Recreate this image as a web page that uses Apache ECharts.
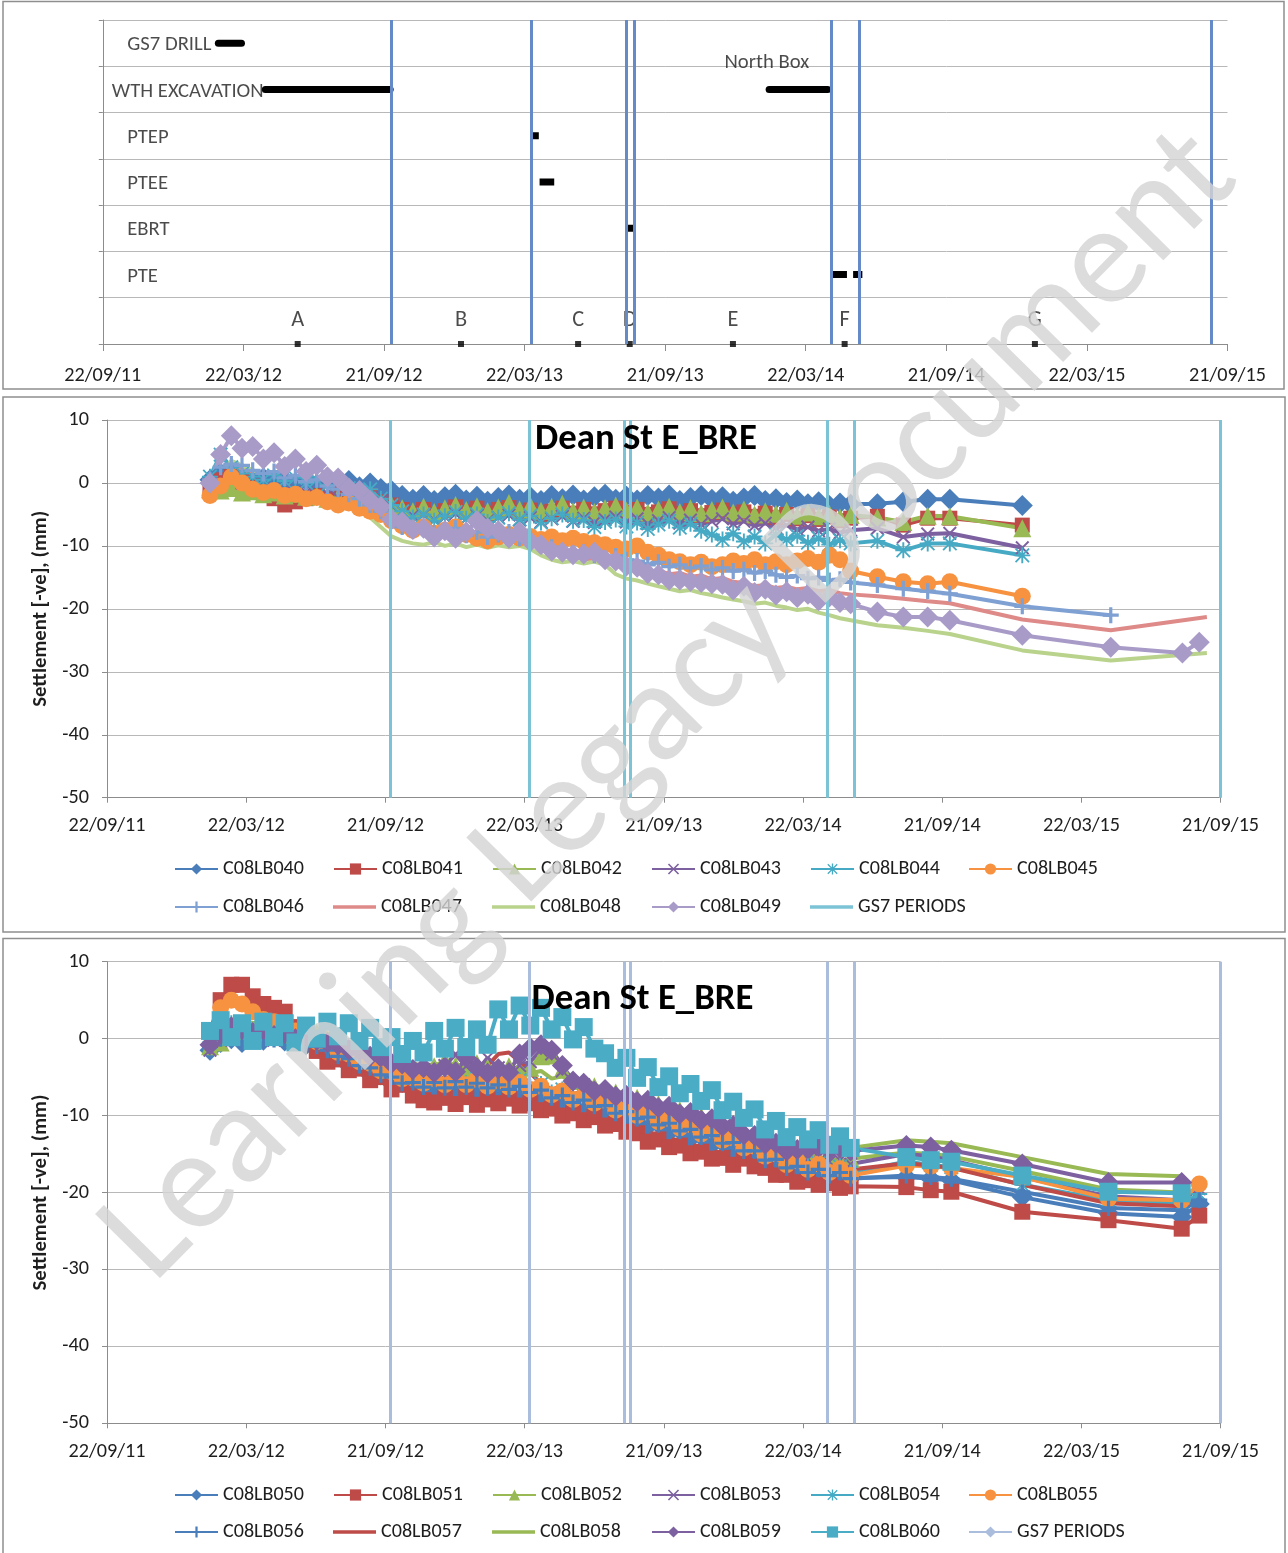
<!DOCTYPE html>
<html><head><meta charset="utf-8">
<script src="https://cdn.jsdelivr.net/npm/echarts@6/dist/echarts.min.js"></script>
<style>html,body{margin:0;padding:0;background:#fff}#c{width:1288px;height:1553px}</style>
</head><body><div id="c"></div>
<script>
// ---------------- DATA ----------------
const AXIS_START = '2011-09-22';
const AXIS_END = '2015-09-21';
const TICK_STEP_DAYS = 182.5;
const X_TICK_LABELS = ['22/09/11','22/03/12','21/09/12','22/03/13','21/09/13','22/03/14','21/09/14','22/03/15','21/09/15'];

// Top panel (activity timeline)
const ACTIVITY_LABELS = ['GS7 DRILL','WTH EXCAVATION','PTEP','PTEE','EBRT','PTE'];
const ACTIVITY_LABEL_ROWS = [6.5, 5.5, 4.5, 3.5, 2.5, 1.5];
const ACTIVITY_LABEL_DATES = ['2011-10-23','2011-10-03','2011-10-23','2011-10-23','2011-10-23','2011-10-23'];
const BAR_NAMES = ['GS7 DRILL','WTH EXCAVATION','North Box','PTEP','PTEE','EBRT','PTE','PTE'];
const BAR_ROWS = [6.5, 5.5, 5.5, 4.5, 3.5, 2.5, 1.5, 1.5];
const BAR_START = ['2012-02-19','2012-04-20','2014-02-03','2013-04-01','2013-04-11','2013-08-03','2014-04-24','2014-05-23'];
const BAR_END   = ['2012-03-20','2012-09-29','2014-04-20','2013-04-10','2013-04-30','2013-08-11','2014-05-15','2014-06-04'];
const NORTH_BOX_TEXT = 'North Box';
const NORTH_BOX_DATE = '2014-01-31';
const NORTH_BOX_ROW = 6.12;
const MILESTONES = ['A','B','C','D','E','F','G'];
const MILESTONE_DATES = ['2012-06-01','2012-12-30','2013-05-31','2013-08-06','2013-12-18','2014-05-12','2015-01-14'];
const MILESTONE_LABEL_ROW = 0.56;
const GS7_PERIODS_TOP = ['2012-09-30','2013-03-31','2013-08-01','2013-08-12','2014-04-24','2014-05-31','2015-08-31'];
const GS7_PERIODS_SETTLEMENT = ['2012-09-27','2013-03-29','2013-07-31','2013-08-08','2014-04-23','2014-05-29','2015-09-21'];

// Settlement readings: dense period dates (shared) + sparse tail dates
const DENSE_DATES = ['2012-02-04','2012-02-18','2012-03-03','2012-03-17','2012-03-31','2012-04-14','2012-04-28','2012-05-12','2012-05-26','2012-06-09',
 '2012-06-23','2012-07-07','2012-07-21','2012-08-04','2012-08-18','2012-09-01','2012-09-15','2012-09-29','2012-10-13','2012-10-27',
 '2012-11-10','2012-11-24','2012-12-08','2012-12-22','2013-01-05','2013-01-19','2013-02-02','2013-02-16','2013-03-02','2013-03-16',
 '2013-03-30','2013-04-13','2013-04-27','2013-05-11','2013-05-25','2013-06-08','2013-06-22','2013-07-06','2013-07-20','2013-08-03',
 '2013-08-17','2013-08-31','2013-09-14','2013-09-28','2013-10-12','2013-10-26','2013-11-09','2013-11-23','2013-12-07','2013-12-21',
 '2014-01-04','2014-01-18','2014-02-01','2014-02-15','2014-03-01','2014-03-15','2014-03-29','2014-04-12','2014-04-26','2014-05-10',
 '2014-05-24'];
const P2_TAIL_DATES = ['2014-06-28','2014-08-01','2014-09-02','2014-10-01','2015-01-04','2015-04-30','2015-08-02','2015-08-24','2015-09-03'];
const P3_TAIL_DATES = ['2014-08-05','2014-09-06','2014-10-03','2015-01-04','2015-04-27','2015-08-01','2015-08-24'];

// Panel 2 (C08LB040 - C08LB049): dense values then tail values
const C08LB040 = [0.5,1.5,1.2,0.6,0.2,0.8,0.0,0.5,-0.3,0.4, -0.2,0.6,0.0,0.4,-0.6,0.0,-0.9,-1.2,-2.0,-2.6, -2.0,-2.8,-2.2,-1.8,-2.7,-2.1,-2.9,-2.3,-1.9,-2.6, -2.2,-2.8,-2.0,-2.5,-1.9,-2.7,-2.2,-1.8,-2.6,-2.1, -2.7,-2.0,-2.4,-1.9,-2.8,-2.3,-2.0,-2.6,-2.2,-2.9, -2.4,-2.0,-2.8,-2.5,-3.1,-2.7,-3.3,-3.0,-3.6,-3.2, -3.4,
  -3.3,-3.0,-2.6,-2.6,-3.6,null,null,null,null];
const C08LB041 = [-0.5,0.5,1.0,0.3,-0.5,-1.5,-2.5,-3.5,-3.0,-2.5, -2.0,-2.5,-1.8,-2.2,-2.8,-2.0,-3.0,-3.5,-4.2,-4.8, -4.2,-5.0,-4.4,-3.8,-4.6,-4.0,-4.8,-4.2,-3.9,-4.7, -4.3,-5.1,-4.5,-4.0,-4.8,-4.2,-4.9,-4.4,-4.0,-4.7, -4.2,-5.0,-4.6,-4.1,-4.9,-4.4,-5.2,-4.7,-4.3,-5.0, -4.6,-5.3,-4.8,-5.5,-5.0,-5.7,-5.2,-5.8,-5.4,-6.0, -5.6,
  -5.3,-6.7,-5.6,-5.6,-6.7,null,null,null,null];
const C08LB042 = [-1.0,-1.2,-0.8,-1.5,-1.3,-1.8,-1.5,-2.0,-1.7,-2.2, -2.0,-2.5,-2.3,-2.8,-3.0,-2.6,-3.2,-3.5,-4.0,-4.5, -3.8,-4.6,-4.0,-3.5,-4.3,-3.7,-4.5,-3.9,-3.2,-4.2, -3.6,-4.4,-3.8,-3.3,-4.5,-3.9,-4.6,-4.0,-3.6,-4.4, -3.9,-4.7,-4.2,-3.8,-4.6,-4.0,-4.8,-4.3,-3.9,-4.7, -4.2,-5.0,-4.5,-4.9,-4.4,-5.2,-4.7,-5.3,-4.9,-5.5, -5.1,
  -5.5,-6.2,-5.2,-5.3,-7.2,null,null,null,null];
const C08LB043 = [-0.8,0.2,0.5,0.0,-0.6,-1.0,-1.4,-1.2,-1.8,-1.5, -2.0,-1.7,-2.3,-2.0,-2.6,-2.3,-3.0,-3.6,-4.5,-5.2, -5.1,-5.9,-5.4,-4.9,-5.7,-5.2,-6.0,-5.5,-5.1,-5.9, -5.5,-6.2,-5.7,-5.3,-6.1,-5.6,-6.3,-5.8,-5.4,-6.2, -5.7,-6.5,-6.0,-5.5,-6.4,-5.9,-6.6,-6.1,-5.7,-6.5, -6.1,-6.8,-6.4,-7.1,-6.7,-7.4,-7.0,-7.6,-7.3,-7.9, -7.5,
  -7.2,-8.6,-8.1,-8.0,-10.3,null,null,null,null];
const C08LB044 = [1.0,4.5,2.5,1.5,1.0,0.5,1.2,0.3,0.8,0.0, 0.5,-0.3,0.2,-0.8,-1.5,-1.0,-2.5,-3.5,-4.5,-5.5, -5.0,-6.0,-5.3,-4.6,-5.7,-5.0,-6.2,-5.5,-4.8,-5.8, -5.2,-6.3,-5.6,-5.0,-6.0,-5.9,-7.0,-6.2,-5.8,-6.9, -6.3,-7.3,-6.6,-6.0,-7.1,-6.5,-7.6,-8.2,-9.0,-8.0, -9.3,-8.5,-9.6,-8.2,-9.0,-8.4,-9.5,-8.8,-9.8,-9.1, -9.6,
  -9.2,-10.7,-9.6,-9.6,-11.5,null,null,null,null];
const C08LB045 = [-2.0,-0.5,1.0,0.0,-1.0,-1.5,-1.2,-2.0,-1.8,-2.5, -2.3,-3.0,-3.5,-3.2,-4.0,-4.5,-5.0,-6.0,-6.8,-7.5, -7.0,-8.0,-7.5,-7.0,-8.2,-8.8,-9.2,-8.6,-8.2,-8.8, -8.5,-9.0,-8.6,-9.2,-8.8,-9.3,-9.5,-9.8,-10.2,-10.5, -10.0,-11.0,-11.5,-12.2,-12.5,-13.0,-12.6,-13.3,-13.0,-12.4, -12.8,-12.2,-13.0,-12.5,-13.0,-12.4,-12.0,-12.6,-11.5,-12.2, -14.0,
  -14.9,-15.7,-16.0,-15.7,-18.0,null,null,null,null];
const C08LB046 = [0.5,2.5,3.0,2.8,2.0,1.5,1.8,0.8,1.2,0.2, 0.5,-0.5,-1.0,-1.8,-2.5,-3.5,-4.5,-6.0,-7.0,-7.5, -7.0,-8.0,-7.5,-7.2,-8.3,-7.8,-8.6,-8.2,-7.8,-8.8, -9.0,-9.8,-10.2,-10.8,-11.2,-11.0,-11.5,-12.0,-11.6,-12.2, -12.4,-13.0,-12.6,-13.3,-13.0,-13.5,-13.2,-13.8,-13.5,-14.0, -13.8,-14.3,-14.0,-14.6,-15.0,-14.7,-15.2,-15.0,-15.5,-15.3, -15.8,
  -16.2,-16.8,-17.2,-17.6,-19.6,-21.0,null,null,null];
const C08LB047 = [0.0,2.0,2.5,2.2,1.5,1.0,1.3,0.4,0.8,-0.2, 0.2,-0.8,-1.5,-2.2,-3.0,-4.0,-5.0,-6.5,-7.5,-8.2, -7.8,-8.6,-8.2,-7.9,-8.8,-8.4,-9.2,-8.8,-8.5,-9.4, -9.6,-10.5,-11.0,-11.4,-11.8,-12.0,-12.4,-12.8,-12.6,-13.2, -13.6,-14.2,-13.9,-14.5,-14.3,-14.9,-14.7,-15.3,-15.1,-15.7, -15.9,-16.4,-16.2,-16.7,-16.5,-16.9,-16.7,-17.2,-17.0,-17.5, -17.7,
  -18.0,-18.4,-18.8,-19.1,-21.7,-23.4,null,null,-21.3];
const C08LB048 = [-2.0,1.5,3.5,2.8,2.0,1.2,1.0,0.2,0.5,-0.5, -0.8,-1.5,-2.2,-3.0,-4.2,-5.5,-7.0,-8.5,-9.2,-9.6, -9.8,-9.4,-10.0,-9.6,-10.2,-9.8,-10.3,-9.9,-10.2,-10.0, -10.5,-11.5,-12.2,-12.6,-12.4,-12.8,-12.5,-13.0,-14.5,-15.2, -15.5,-16.0,-16.4,-16.8,-17.2,-17.0,-17.5,-17.8,-18.2,-18.5, -18.8,-19.2,-19.0,-19.5,-19.8,-20.2,-20.0,-20.6,-21.0,-21.5, -21.8,
  -22.6,-23.0,-23.5,-24.0,-26.6,-28.2,null,null,-27.0];
const C08LB049 = [0.0,4.5,7.5,5.5,5.8,3.8,4.8,2.6,3.8,1.8, 2.8,1.0,0.8,-0.8,-1.2,-2.8,-3.8,-5.8,-6.2,-7.4, -7.2,-8.6,-7.6,-8.8,-7.8,-6.0,-7.2,-7.6,-8.8,-7.8, -9.3,-9.8,-10.8,-11.0,-11.4,-11.3,-11.0,-12.2,-12.4,-13.2, -13.4,-14.4,-14.6,-15.4,-15.4,-15.6,-15.8,-16.0,-16.1,-17.0, -16.4,-17.4,-16.9,-17.8,-17.3,-18.2,-17.7,-18.7,-18.1,-19.0, -19.2,
  -20.5,-21.3,-21.3,-21.8,-24.2,-26.1,-27.0,-25.3,null];

// Panel 3 (C08LB050 - C08LB060): dense values then tail values
const C08LB050 = [-1.5,-0.5,0.0,-0.5,0.3,-0.2,0.5,-0.3,0.0,-0.8, -1.2,-2.3,-2.3,-3.5,-3.5,-4.7,-4.7,-5.8,-5.7,-6.6, -6.2,-6.9,-6.3,-6.9,-6.2,-7.1,-6.3,-7.2,-6.6,-7.3, -6.9,-7.9,-7.6,-8.6,-8.2,-9.2,-8.7,-9.9,-9.6,-10.7, -10.3,-11.4,-11.1,-12.2,-11.9,-13.0,-12.7,-13.8,-13.5,-14.7, -14.5,-15.8,-15.7,-16.9,-16.7,-17.8,-17.3,-18.2,-17.7,-18.6, -18.1,
  -18.0,-18.2,-18.4,-20.6,-22.7,-23.2,-21.5];
const C08LB051 = [1.0,5.0,7.0,7.0,5.5,4.5,4.0,3.5,1.5,0.0, -1.6,-3.0,-2.7,-4.1,-3.9,-5.4,-5.0,-6.6,-6.0,-7.4, -8.0,-8.3,-7.7,-8.5,-7.6,-8.6,-7.9,-8.4,-7.8,-8.7, -8.4,-9.3,-9.1,-10.0,-9.7,-10.6,-10.2,-11.3,-11.1,-12.1, -12.3,-13.4,-13.1,-14.1,-13.9,-14.9,-14.7,-15.6,-15.5,-16.4, -15.6,-16.6,-16.8,-17.7,-17.7,-18.6,-18.4,-19.0,-18.8,-19.4, -19.2,
  -19.3,-19.7,-19.9,-22.5,-23.6,-24.7,-23.0];
const C08LB052 = [-1.0,-0.5,0.5,1.0,0.5,0.8,0.2,0.5,0.0,0.3, 0.8,-0.3,-0.3,-1.5,-1.5,-2.7,-2.7,-3.8,-3.7,-4.6, -4.3,-3.6,-2.8,-3.5,-4.0,-3.2,-3.8,-4.3,-3.6,-4.2, -3.8,-2.3,-2.2,-4.0,-5.5,-6.5,-6.2,-7.3,-7.0,-8.0, -7.7,-8.9,-8.5,-9.6,-9.3,-10.4,-10.1,-11.2,-10.9,-12.1, -12.0,-13.2,-13.1,-14.3,-14.2,-15.2,-14.8,-15.6,-15.2,-15.9, -15.6,
  -14.8,-15.0,-15.3,-17.2,-19.6,-20.0,null];
const C08LB053 = [-1.5,-0.2,0.8,0.5,0.0,0.4,-0.2,0.2,-0.5,-0.1, -0.4,-0.9,-1.0,-1.5,-1.4,-2.4,-2.8,-3.2,-3.6,-4.3, -4.0,-4.6,-3.5,-2.0,-3.6,-4.2,-2.5,-3.8,-4.4,-3.5, -3.0,-1.5,-2.0,-4.2,-5.8,-6.0,-6.9,-7.0,-7.9,-7.8, -8.6,-8.5,-9.4,-9.3,-10.2,-10.1,-11.0,-10.9,-11.8,-11.9, -12.8,-13.0,-13.9,-14.0,-14.9,-14.9,-15.6,-15.4,-16.0,-15.8, -16.3,
  -15.0,-15.3,-15.8,-18.0,-20.5,-21.0,-19.5];
const C08LB054 = [-0.5,1.0,2.0,1.8,1.0,1.5,0.6,1.0,0.2,0.5, -0.3,-0.5,-1.5,-1.7,-2.7,-2.9,-4.0,-4.0,-5.0,-4.8, -5.6,-5.0,-5.8,-5.0,-5.8,-5.2,-5.9,-5.2,-6.1,-5.4, -6.3,-5.9,-7.0,-6.6,-7.6,-7.2,-8.1,-7.9,-8.9,-8.7, -9.7,-9.4,-10.5,-10.2,-11.3,-10.9,-12.1,-11.7,-12.9,-12.6, -14.0,-13.8,-15.2,-14.8,-16.1,-15.7,-16.6,-16.2,-17.1,-16.6, -17.4,
  -16.0,-16.4,-16.7,-19.0,-21.0,-21.5,-20.2];
const C08LB055 = [0.5,4.0,5.0,4.5,3.5,2.5,2.2,1.5,1.0,0.5, -0.4,-0.6,-1.8,-2.0,-3.0,-3.2,-4.2,-4.3,-5.2,-5.1, -5.8,-5.2,-6.0,-5.1,-6.0,-5.3,-6.2,-5.5,-6.3,-5.7, -6.6,-6.2,-7.3,-6.8,-7.9,-7.4,-8.4,-8.0,-9.3,-8.9, -10.0,-9.6,-10.8,-10.4,-11.6,-11.2,-12.4,-11.9,-13.2,-12.9, -14.2,-14.0,-15.3,-15.0,-16.4,-15.9,-17.0,-16.3,-17.4,-16.9, -17.8,
  -16.5,-16.6,-16.8,-18.0,-20.8,-21.0,-18.9];
const C08LB056 = [-1.0,0.0,0.8,0.5,0.0,0.4,-0.1,0.2,-0.5,-0.3, -1.0,-1.5,-2.3,-2.6,-3.5,-3.8,-4.7,-5.0,-5.8,-5.7, -6.3,-5.7,-6.4,-5.6,-6.3,-5.8,-6.4,-6.0,-6.6,-6.2, -7.0,-6.7,-7.7,-7.4,-8.3,-8.0,-8.8,-8.7,-9.7,-9.5, -10.4,-10.2,-11.2,-11.0,-12.0,-11.8,-12.8,-12.6,-13.6,-13.5, -14.6,-14.6,-15.8,-15.7,-16.8,-16.6,-17.4,-17.0,-17.8,-17.4, -18.2,
  -17.8,-18.0,-18.2,-19.9,-22.0,-22.3,-21.0];
const C08LB057 = [-0.5,1.5,2.5,2.2,1.5,1.8,1.0,1.2,0.5,0.6, -0.3,-0.2,-1.3,-1.5,-2.5,-2.7,-3.6,-3.8,-4.8,-4.6, -5.2,-4.6,-5.3,-4.5,-5.0,-4.6,-3.5,-2.0,-1.8,-3.0, -4.5,-5.8,-6.6,-6.2,-7.2,-6.9,-7.7,-7.4,-8.6,-8.3, -9.4,-9.0,-10.2,-9.8,-11.0,-10.6,-11.8,-11.3,-12.6,-12.2, -13.6,-13.4,-14.8,-14.6,-15.7,-15.4,-16.3,-16.0,-16.7,-16.3, -17.0,
  -16.2,-16.5,-16.8,-19.0,-21.4,-21.8,-20.8];
const C08LB058 = [-0.5,1.0,2.0,2.5,2.0,2.3,1.7,1.9,1.3,1.5, 0.9,0.7,-0.2,-0.4,-1.2,-1.5,-2.3,-2.6,-3.3,-3.1, -3.8,-3.2,-4.0,-3.3,-3.9,-3.4,-4.1,-3.6,-4.2,-3.7, -4.5,-4.2,-5.2,-4.9,-5.8,-5.6,-6.3,-6.2,-7.1,-6.9, -7.8,-7.6,-8.6,-8.4,-9.4,-9.2,-10.2,-9.9,-11.0,-10.8, -12.0,-12.6,-13.3,-13.2,-13.9,-13.6,-14.2,-13.9,-14.3,-14.0, -14.2,
  -13.2,-13.4,-13.6,-15.4,-17.6,-17.9,null];
const C08LB059 = [-0.8,0.6,1.5,1.2,0.8,1.2,0.4,0.7,0.0,0.3, -0.2,-0.5,-0.8,-1.4,-1.6,-2.3,-2.4,-3.2,-3.3,-4.0, -3.8,-4.4,-3.7,-4.3,-2.5,-3.8,-4.5,-3.9,-4.4,-2.0, -1.2,-0.8,-1.5,-3.5,-5.5,-5.8,-6.8,-6.6,-7.5,-7.4, -8.2,-8.0,-9.0,-8.8,-9.8,-9.6,-10.6,-10.4,-11.4,-11.3, -12.5,-12.6,-13.7,-13.6,-14.6,-14.4,-14.2,-14.0,-14.5,-14.2, -14.6,
  -13.9,-14.1,-14.5,-16.3,-18.7,-18.7,null];
const C08LB060 = [1.0,2.4,0.2,2.0,-0.3,2.2,0.2,2.0,-0.5,1.7, 0.0,2.2,0.3,2.0,-0.3,1.4,-1.1,0.2,-2.0,-0.3, -1.8,1.0,-1.3,1.4,-1.1,1.2,-0.8,3.8,1.2,4.3, 1.7,4.0,1.2,2.8,-0.1,1.5,-1.3,-1.9,-3.8,-2.5, -5.1,-3.7,-6.3,-4.9,-7.1,-5.9,-8.1,-6.7,-9.3,-8.2, -10.3,-9.2,-11.8,-10.7,-12.8,-11.5,-13.1,-11.9,-13.8,-12.7, -14.2,
  -15.4,-15.8,-16.0,-17.8,-19.9,-20.1,null];

const P2_SERIES = {C08LB040, C08LB041, C08LB042, C08LB043, C08LB044, C08LB045, C08LB046, C08LB047, C08LB048, C08LB049};
const P3_SERIES = {C08LB050, C08LB051, C08LB052, C08LB053, C08LB054, C08LB055, C08LB056, C08LB057, C08LB058, C08LB059, C08LB060};

// ---------------- STYLE ----------------
const SYM_X = 'path://M1,0L5,4L9,0L10,1L6,5L10,9L9,10L5,6L1,10L0,9L4,5L0,1Z';
const SYM_PLUS = 'path://M4,0H6V4H10V6H6V10H4V6H0V4H4Z';
const SYM_STAR = 'path://M4.4,0H5.6V4.4H10V5.6H5.6V10H4.4V5.6H0V4.4H4.4Z M1.2,0.4L5,4.2L8.8,0.4L9.6,1.2L5.8,5L9.6,8.8L8.8,9.6L5,5.8L1.2,9.6L0.4,8.8L4.2,5L0.4,1.2Z';
const LINE_ICON = 'path://M0,0H43V3.5H0Z';
const STYLE = {
  C08LB040:['#4A7EBB','diamond',21], C08LB041:['#BE4B48','rect',15], C08LB042:['#98B954','triangle',18],
  C08LB043:['#7D60A0',SYM_X,14], C08LB044:['#46AAC5',SYM_STAR,16], C08LB045:['#F69240','circle',17],
  C08LB046:['#7FA0D2',SYM_PLUS,16], C08LB047:['#DE8A88','none',0], C08LB048:['#B9D38C','none',0],
  C08LB049:['#A99BC8','diamond',21],
  C08LB050:['#4A7EBB','diamond',21], C08LB051:['#BE4B48','rect',16], C08LB052:['#98B954','triangle',18],
  C08LB053:['#7D60A0',SYM_X,14], C08LB054:['#46AAC5',SYM_STAR,16], C08LB055:['#F69240','circle',17],
  C08LB056:['#4A7EBB',SYM_PLUS,16], C08LB057:['#BE4B48','none',0], C08LB058:['#98B954','none',0],
  C08LB059:['#7D60A0','diamond',21], C08LB060:['#4BACC6','rect',18]
};

// ---------------- FONTS ----------------
const ctx = document.createElement('canvas').getContext('2d');
function hasFont(f){
  const t = 'abcdefghijklmnopqrstuvwxyz ABCDEFGHIJ 0123456789/';
  ctx.font = '50px monospace'; const a = ctx.measureText(t).width;
  ctx.font = '50px "' + f + '", monospace'; const b = ctx.measureText(t).width;
  ctx.font = '50px serif'; const c = ctx.measureText(t).width;
  ctx.font = '50px "' + f + '", serif'; const d = ctx.measureText(t).width;
  return Math.abs(a - b) > 0.1 || Math.abs(c - d) > 0.1;
}
const FAM = ['Carlito','Liberation Sans','Arial','DejaVu Sans'].find(hasFont);
const FF = FAM ? '"' + FAM + '", sans-serif' : 'sans-serif';
function fit(text, weight, target){
  ctx.font = weight + ' 100px ' + FF;
  return +(100 * target / ctx.measureText(text).width).toFixed(2);
}
const AX_FS = fit('22/09/11', 'normal', 77);
const LEG_FS = fit('C08LB040', 'normal', 81);
const ROW_FS = fit('WTH EXCAVATION', 'normal', 152);
const TITLE_FS = fit('Dean St E_BRE', 'bold', 222);
const YNAME_FS = fit('Settlement [-ve], (mm)', 'bold', 196);
const WM_FS = fit('Learning Legacy Document', 'normal', 1550);

// ---------------- HELPERS ----------------
const DAY = 86400000;
const T0 = Date.parse(AXIS_START + 'T00:00:00Z');
const toDay = s => (Date.parse(s + 'T00:00:00Z') - T0) / DAY;
const XMAX = toDay(AXIS_END);
const AXIS_COLOR = '#8C8C8C', GRID_COLOR = '#B8B8B8', TEXT = '#1E1E1E';
function pts(dates, vals){
  const out = [];
  for (let i = 0; i < dates.length; i++) if (vals[i] !== null && vals[i] !== undefined) out.push([toDay(dates[i]), vals[i]]);
  return out;
}
function xAxis(gi, margin, tick){
  return {type:'value', gridIndex:gi, min:0, max:XMAX, interval:TICK_STEP_DAYS,
    axisLine:{show:true, onZero:false, lineStyle:{color:AXIS_COLOR, width:1}},
    axisTick:{show:true, length:tick, lineStyle:{color:AXIS_COLOR}},
    splitLine:{show:false},
    axisLabel:{show:true, margin, color:TEXT, fontSize:AX_FS, fontFamily:FF, showMinLabel:true, showMaxLabel:true, hideOverlap:false,
      formatter: v => X_TICK_LABELS[Math.round(v / TICK_STEP_DAYS)] || ''}};
}
function settleY(gi){
  return {type:'value', gridIndex:gi, min:-50, max:10, interval:10,
    name:'Settlement [-ve], (mm)', nameLocation:'middle', nameGap:55, nameRotate:90,
    nameTextStyle:{fontWeight:'bold', fontSize:YNAME_FS, fontFamily:FF, color:TEXT},
    axisLine:{show:true, onZero:false, lineStyle:{color:AXIS_COLOR}},
    axisTick:{show:true, length:5, lineStyle:{color:AXIS_COLOR}},
    axisLabel:{margin:18, color:TEXT, fontSize:AX_FS, fontFamily:FF},
    splitLine:{show:true, lineStyle:{color:GRID_COLOR, width:1}}};
}

const series = [];
// ---- Panel 1 ----
series.push({type:'line', name:'GS7 lines top', xAxisIndex:0, yAxisIndex:0, data:[], symbol:'none', color:'#648BC8',
  markLine:{silent:true, symbol:['none','none'], label:{show:false}, emphasis:{disabled:true},
    lineStyle:{color:'#648BC8', width:3, type:'solid'}, data: GS7_PERIODS_TOP.map(d => ({xAxis: toDay(d)}))}});
const ROUND = new Set(['GS7 DRILL','WTH EXCAVATION','North Box']);
BAR_NAMES.forEach((n, i) => {
  series.push({type:'line', name:n, xAxisIndex:0, yAxisIndex:0, symbol:'none', silent:true,
    data:[[toDay(BAR_START[i]), BAR_ROWS[i]], [toDay(BAR_END[i]), BAR_ROWS[i]]],
    lineStyle:{color:'#000', width:7, cap: ROUND.has(n) ? 'round' : 'butt'}, emphasis:{disabled:true}});
});
series.push({type:'scatter', name:'row labels', xAxisIndex:0, yAxisIndex:0, symbolSize:1, silent:true,
  itemStyle:{color:'rgba(0,0,0,0)'},
  data: ACTIVITY_LABELS.map((n, i) => ({name:n, value:[toDay(ACTIVITY_LABEL_DATES[i]), ACTIVITY_LABEL_ROWS[i]]})),
  label:{show:true, position:'right', distance:0, offset:[0,2], formatter:'{b}', color:TEXT, fontSize:ROW_FS, fontFamily:FF}});
series.push({type:'scatter', name:'north box label', xAxisIndex:0, yAxisIndex:0, symbolSize:1, silent:true,
  itemStyle:{color:'rgba(0,0,0,0)'},
  data:[{name:NORTH_BOX_TEXT, value:[toDay(NORTH_BOX_DATE), NORTH_BOX_ROW]}],
  label:{show:true, position:'inside', offset:[0,2], formatter:'{b}', color:TEXT, fontSize:ROW_FS, fontFamily:FF}});
series.push({type:'scatter', name:'milestone labels', xAxisIndex:0, yAxisIndex:0, symbolSize:1, silent:true,
  itemStyle:{color:'rgba(0,0,0,0)'},
  data: MILESTONES.map((n, i) => ({name:n, value:[toDay(MILESTONE_DATES[i]), MILESTONE_LABEL_ROW]})),
  label:{show:true, position:'inside', offset:[0,2], formatter:'{b}', color:TEXT, fontSize:ROW_FS * 1.08, fontFamily:FF}});
series.push({type:'scatter', name:'milestones', xAxisIndex:0, yAxisIndex:0, symbol:'rect', symbolSize:6, silent:true, clip:false,
  itemStyle:{color:'#000'}, data: MILESTONE_DATES.map(d => [toDay(d), 0])});

// ---- Panels 2 & 3 ----
function addPanel(gi, seriesMap, tailDates, gs7Name, gs7Color, gs7Symbol){
  const dates = DENSE_DATES.concat(tailDates);
  Object.keys(seriesMap).forEach(name => {
    const [color, sym, size] = STYLE[name];
    series.push({type:'line', name, xAxisIndex:gi, yAxisIndex:gi, data: pts(dates, seriesMap[name]),
      symbol:sym, symbolSize:size, showSymbol: sym !== 'none', showAllSymbol:true, connectNulls:true, color,
      lineStyle:{color, width:4}, itemStyle:{color}, emphasis:{disabled:true}, silent:true});
  });
  series.push({type:'line', name:gs7Name, xAxisIndex:gi, yAxisIndex:gi, data:[], symbol:gs7Symbol, symbolSize:9, showSymbol:false,
    color:gs7Color, lineStyle:{color:gs7Color, width:3}, itemStyle:{color:gs7Color},
    markLine:{silent:true, symbol:['none','none'], label:{show:false}, emphasis:{disabled:true},
      lineStyle:{color:gs7Color, width:3, type:'solid'}, data: GS7_PERIODS_SETTLEMENT.map(d => ({xAxis: toDay(d)}))}});
}
addPanel(1, P2_SERIES, P2_TAIL_DATES, 'GS7 PERIODS', '#7CC3D6', 'none');
addPanel(2, P3_SERIES, P3_TAIL_DATES, 'GS7 PERIODS ', '#AABDDD', 'diamond');

// ---- Legends ----
const COLS = [175, 334, 493, 652, 811, 969];
const legends = [];
function addLegends(names, rowY, lineOnly){
  names.forEach((n, i) => {
    const r = Math.floor(i / 6), c = i % 6;
    const item = lineOnly.includes(n) ? {name:n, icon:LINE_ICON} : {name:n};
    legends.push({show:true, data:[item], left: COLS[c] - 1, top: rowY[r] - 10, itemWidth:43, itemHeight:14, padding:0,
      selectedMode:false, formatter: s => s.trim(),
      textStyle:{fontSize:LEG_FS, fontFamily:FF, color:TEXT, lineHeight:20}});
  });
}
addLegends(Object.keys(P2_SERIES).concat(['GS7 PERIODS']), [869, 907], ['C08LB047','C08LB048','GS7 PERIODS']);
addLegends(Object.keys(P3_SERIES).concat(['GS7 PERIODS ']), [1495, 1532], ['C08LB057','C08LB058']);

const chart = echarts.init(document.getElementById('c'), null, {renderer:'canvas'});
chart.setOption({
  animation:false,
  backgroundColor:'#fff',
  tooltip:{show:false},
  grid:[
    {left:102.8, top:20, width:1124.7, height:324, outerBoundsMode:'none', containLabel:false},
    {left:107, top:420, width:1113.6, height:377.7, outerBoundsMode:'none', containLabel:false},
    {left:107, top:961.7, width:1113.6, height:461.6, outerBoundsMode:'none', containLabel:false}
  ],
  xAxis:[xAxis(0, 22, 7), xAxis(1, 18, 5), xAxis(2, 19, 5)],
  yAxis:[
    {type:'value', gridIndex:0, min:0, max:7, interval:1, axisLabel:{show:false},
      axisLine:{show:true, onZero:false, lineStyle:{color:AXIS_COLOR}},
      axisTick:{show:true, length:4, lineStyle:{color:AXIS_COLOR}},
      splitLine:{show:true, lineStyle:{color:GRID_COLOR, width:1}}},
    settleY(1), settleY(2)
  ],
  legend: legends,
  graphic:[
    {type:'rect', silent:true, z:-1, shape:{x:3, y:1.5, width:1281, height:387.5}, style:{fill:'none', stroke:'#8E8E8E', lineWidth:1.5}},
    {type:'rect', silent:true, z:-1, shape:{x:3, y:397, width:1282, height:535}, style:{fill:'none', stroke:'#8E8E8E', lineWidth:1.5}},
    {type:'rect', silent:true, z:-1, shape:{x:3, y:938.5, width:1282, height:620}, style:{fill:'none', stroke:'#8E8E8E', lineWidth:1.5}},
    {type:'text', silent:true, z:50, x:646, y:440, style:{text:'Dean St E_BRE', fill:'#000', fontWeight:'bold', fontSize:TITLE_FS, fontFamily:FF, align:'center', verticalAlign:'middle'}},
    {type:'text', silent:true, z:50, x:642.5, y:1000, style:{text:'Dean St E_BRE', fill:'#000', fontWeight:'bold', fontSize:TITLE_FS, fontFamily:FF, align:'center', verticalAlign:'middle'}},
    {type:'text', silent:true, z:100, x:672, y:708, rotation: 45.4 * Math.PI / 180,
      style:{text:'Learning Legacy Document', fill:'rgba(212,212,212,0.82)', fontSize:WM_FS, fontFamily:FF, align:'center', verticalAlign:'middle'}}
  ],
  series
});
</script></body></html>
